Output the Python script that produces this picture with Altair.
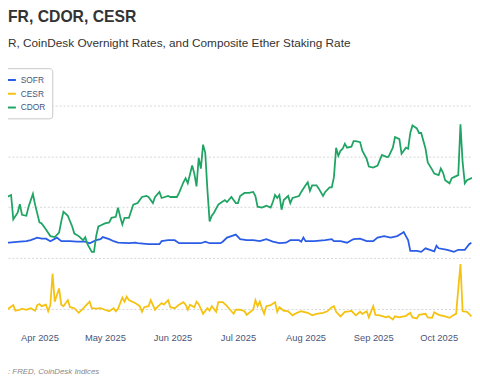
import altair as alt
import pandas as pd

TITLE = "FR, CDOR, CESR"
SUBTITLE = "R, CoinDesk Overnight Rates, and Composite Ether Staking Rate"
SOURCE = ": FRED, CoinDesk Indices"

series_names = ["SOFR", "CESR", "CDOR"]
series_colors = ["#2b5ce6", "#f5c211", "#1fa463"]
grid_values = [3, 4, 5, 6, 7]

sofr_dates = [
    "2025-03-14", "2025-03-18", "2025-03-23", "2025-03-26", "2025-03-28", "2025-03-31",
    "2025-04-02", "2025-04-04", "2025-04-06", "2025-04-09", "2025-04-11", "2025-04-15",
    "2025-04-18", "2025-04-22", "2025-04-24", "2025-04-27", "2025-04-29", "2025-04-30",
    "2025-05-03", "2025-05-05", "2025-05-07", "2025-05-12", "2025-05-15", "2025-05-16",
    "2025-05-21", "2025-05-26", "2025-05-27", "2025-05-30", "2025-06-02", "2025-06-04",
    "2025-06-08", "2025-06-14", "2025-06-16", "2025-06-18", "2025-06-23", "2025-06-24",
    "2025-06-26", "2025-06-28", "2025-06-30", "2025-07-02", "2025-07-05", "2025-07-08",
    "2025-07-11", "2025-07-14", "2025-07-17", "2025-07-20", "2025-07-23", "2025-07-25",
    "2025-07-29", "2025-07-30", "2025-07-31", "2025-08-01", "2025-08-05", "2025-08-10",
    "2025-08-13", "2025-08-14", "2025-08-17", "2025-08-20", "2025-08-22", "2025-08-23",
    "2025-08-26", "2025-08-29", "2025-09-01", "2025-09-03", "2025-09-06", "2025-09-09",
    "2025-09-12", "2025-09-14", "2025-09-15", "2025-09-16", "2025-09-17", "2025-09-18",
    "2025-09-21", "2025-09-23", "2025-09-25", "2025-09-27", "2025-09-29", "2025-09-30",
    "2025-10-01", "2025-10-05", "2025-10-08", "2025-10-10", "2025-10-13", "2025-10-15",
    "2025-10-16",
]
sofr_values = [
    4.30, 4.30, 4.32, 4.33, 4.35, 4.40,
    4.38, 4.38, 4.33, 4.40, 4.33, 4.33,
    4.32, 4.32, 4.29, 4.35, 4.37, 4.41,
    4.37, 4.33, 4.30, 4.29, 4.30, 4.29,
    4.27, 4.27, 4.33, 4.35, 4.35, 4.29,
    4.29, 4.29, 4.32, 4.29, 4.29, 4.32,
    4.40, 4.43, 4.46, 4.37, 4.35, 4.35,
    4.33, 4.37, 4.32, 4.29, 4.30, 4.35,
    4.35, 4.32, 4.40, 4.33, 4.33, 4.35,
    4.37, 4.33, 4.33, 4.30, 4.35, 4.37,
    4.38, 4.33, 4.33, 4.40, 4.43, 4.40,
    4.43, 4.48, 4.51, 4.43, 4.35, 4.14,
    4.14, 4.12, 4.19, 4.16, 4.13, 4.24,
    4.19, 4.16, 4.12, 4.16, 4.16, 4.27,
    4.30,
]

cesr_dates = [
    "2025-03-14", "2025-03-15", "2025-03-17", "2025-03-18", "2025-03-20", "2025-03-21",
    "2025-03-23", "2025-03-24", "2025-03-26", "2025-03-28", "2025-03-30", "2025-03-31",
    "2025-04-01", "2025-04-02", "2025-04-04", "2025-04-05", "2025-04-06", "2025-04-07",
    "2025-04-08", "2025-04-10", "2025-04-11", "2025-04-12", "2025-04-14", "2025-04-15",
    "2025-04-17", "2025-04-19", "2025-04-21", "2025-04-22", "2025-04-24", "2025-04-25",
    "2025-04-27", "2025-04-29", "2025-05-01", "2025-05-03", "2025-05-05", "2025-05-06",
    "2025-05-07", "2025-05-09", "2025-05-10", "2025-05-11", "2025-05-12", "2025-05-15",
    "2025-05-17", "2025-05-18", "2025-05-19", "2025-05-21", "2025-05-22", "2025-05-24",
    "2025-05-25", "2025-05-27", "2025-05-28", "2025-05-30", "2025-05-31", "2025-06-02",
    "2025-06-04", "2025-06-06", "2025-06-07", "2025-06-08", "2025-06-09", "2025-06-11",
    "2025-06-12", "2025-06-13", "2025-06-15", "2025-06-17", "2025-06-18", "2025-06-19",
    "2025-06-21", "2025-06-22", "2025-06-24", "2025-06-26", "2025-06-27", "2025-06-29",
    "2025-06-30", "2025-07-02", "2025-07-04", "2025-07-05", "2025-07-07", "2025-07-08",
    "2025-07-09", "2025-07-10", "2025-07-11", "2025-07-12", "2025-07-13", "2025-07-14",
    "2025-07-16", "2025-07-18", "2025-07-19", "2025-07-20", "2025-07-22", "2025-07-23",
    "2025-07-24", "2025-07-26", "2025-07-28", "2025-07-30", "2025-08-02", "2025-08-04",
    "2025-08-06", "2025-08-09", "2025-08-11", "2025-08-13", "2025-08-14", "2025-08-15",
    "2025-08-17", "2025-08-19", "2025-08-21", "2025-08-22", "2025-08-24", "2025-08-26",
    "2025-08-27", "2025-08-29", "2025-08-30", "2025-09-01", "2025-09-02", "2025-09-04",
    "2025-09-07", "2025-09-08", "2025-09-10", "2025-09-11", "2025-09-13", "2025-09-16",
    "2025-09-18", "2025-09-19", "2025-09-21", "2025-09-22", "2025-09-25", "2025-09-26",
    "2025-09-28", "2025-09-29", "2025-10-01", "2025-10-04", "2025-10-06", "2025-10-08",
    "2025-10-09", "2025-10-11", "2025-10-12", "2025-10-14", "2025-10-16",
]
cesr_values = [
    3.05, 2.98, 2.98, 3.01, 3.07, 2.96,
    2.98, 3.00, 2.98, 3.01, 2.96, 3.07,
    3.09, 3.05, 3.08, 2.95, 3.08, 3.69,
    3.14, 3.40, 3.08, 3.05, 3.17, 3.03,
    3.01, 2.92, 3.00, 3.05, 3.14, 3.01,
    3.00, 3.01, 2.98, 2.95, 3.01, 2.95,
    3.00, 3.22, 3.14, 3.24, 3.17, 3.11,
    3.05, 2.94, 3.03, 3.05, 3.17, 2.98,
    3.03, 3.11, 3.08, 3.17, 3.03, 3.01,
    3.08, 3.13, 3.08, 2.98, 3.08, 3.03,
    3.14, 3.09, 2.90, 3.01, 2.96, 3.05,
    2.94, 3.13, 3.13, 3.05, 3.00, 2.90,
    2.98, 2.98, 2.95, 2.88, 2.95, 2.98,
    3.17, 3.05, 3.14, 3.01, 2.90, 3.05,
    3.07, 3.13, 2.94, 3.03, 2.96, 2.96,
    2.95, 2.87, 2.92, 2.95, 2.92, 2.87,
    2.90, 2.92, 2.95, 3.03, 3.05, 2.94,
    2.85, 2.94, 2.95, 2.96, 2.87, 2.94,
    2.90, 2.95, 2.83, 3.05, 2.88, 2.87,
    2.83, 2.85, 2.79, 2.85, 2.83, 2.86,
    2.92, 2.83, 2.81, 2.88, 2.90, 2.83,
    2.82, 2.93, 2.88, 2.85, 2.82, 2.88,
    2.90, 3.88, 2.95, 2.94, 2.85,
]

cdor_dates = [
    "2025-03-14", "2025-03-15", "2025-03-16", "2025-03-17", "2025-03-19", "2025-03-20",
    "2025-03-22", "2025-03-23", "2025-03-24", "2025-03-26", "2025-03-27", "2025-03-29",
    "2025-03-30",
    "2025-04-01", "2025-04-02", "2025-04-04", "2025-04-06", "2025-04-08", "2025-04-10",
    "2025-04-11", "2025-04-12", "2025-04-14", "2025-04-16", "2025-04-17", "2025-04-19",
    "2025-04-21", "2025-04-22", "2025-04-23", "2025-04-25", "2025-04-26", "2025-04-27",
    "2025-04-28", "2025-04-29",
    "2025-05-01", "2025-05-03", "2025-05-04", "2025-05-06", "2025-05-07", "2025-05-08",
    "2025-05-09", "2025-05-10", "2025-05-12", "2025-05-14", "2025-05-16", "2025-05-18",
    "2025-05-20", "2025-05-21", "2025-05-23", "2025-05-24", "2025-05-26", "2025-05-27",
    "2025-05-30", "2025-05-31",
    "2025-06-03", "2025-06-04", "2025-06-06", "2025-06-07", "2025-06-08", "2025-06-10",
    "2025-06-11", "2025-06-12", "2025-06-13", "2025-06-14", "2025-06-15", "2025-06-16",
    "2025-06-17", "2025-06-18", "2025-06-19", "2025-06-20", "2025-06-22", "2025-06-23",
    "2025-06-25", "2025-06-26", "2025-06-28", "2025-06-29", "2025-06-30",
    "2025-07-01", "2025-07-02", "2025-07-04", "2025-07-06", "2025-07-08", "2025-07-09",
    "2025-07-10", "2025-07-12", "2025-07-14", "2025-07-16", "2025-07-17", "2025-07-18",
    "2025-07-19", "2025-07-20", "2025-07-21", "2025-07-22", "2025-07-24", "2025-07-25",
    "2025-07-26", "2025-07-29", "2025-07-30",
    "2025-08-01", "2025-08-02", "2025-08-03", "2025-08-04", "2025-08-06", "2025-08-07",
    "2025-08-09", "2025-08-10", "2025-08-12", "2025-08-13", "2025-08-14", "2025-08-15",
    "2025-08-16", "2025-08-17", "2025-08-18", "2025-08-19", "2025-08-20", "2025-08-22",
    "2025-08-23", "2025-08-24", "2025-08-26", "2025-08-27", "2025-08-29", "2025-08-30",
    "2025-09-01", "2025-09-03", "2025-09-05", "2025-09-07", "2025-09-08", "2025-09-10",
    "2025-09-11", "2025-09-13", "2025-09-14", "2025-09-16", "2025-09-17", "2025-09-18",
    "2025-09-19", "2025-09-21", "2025-09-22", "2025-09-23", "2025-09-25", "2025-09-26",
    "2025-09-28", "2025-09-29",
    "2025-10-01", "2025-10-02", "2025-10-03", "2025-10-04", "2025-10-06", "2025-10-07",
    "2025-10-09", "2025-10-10", "2025-10-11", "2025-10-12", "2025-10-13", "2025-10-14",
    "2025-10-16", "2025-10-17",
]
cdor_values = [
    5.47, 5.55, 5.34, 5.20, 5.24, 4.76, 4.89, 5.06, 4.85, 4.83, 5.01, 5.26, 5.05,
    4.70, 4.68, 4.56, 4.43, 4.41, 4.50, 4.72, 4.91, 4.83, 4.62, 4.48, 4.43, 4.35,
    4.41, 4.27, 4.12, 4.12, 4.43, 4.62, 4.64,
    4.68, 4.70, 4.79, 4.81, 4.99, 4.81, 4.66, 4.79, 4.79, 5.05, 5.08, 5.20, 5.22,
    5.20, 5.08, 5.20, 5.30, 5.18, 5.22, 5.20,
    5.20, 5.28, 5.49, 5.57, 5.47, 5.82, 5.66, 5.41, 5.97, 5.76, 6.23, 6.07, 5.34,
    4.72, 4.83, 4.89, 5.05, 5.08, 5.14, 5.10, 5.20, 5.14, 5.08,
    5.08, 5.22, 5.28, 5.28, 5.30, 5.22, 5.01, 4.99, 5.03, 4.99, 5.10, 5.24, 5.18,
    5.24, 4.95, 5.14, 5.22, 5.08, 5.18, 5.22, 5.30,
    5.43, 5.49, 5.32, 5.43, 5.43, 5.37, 5.22, 5.30, 5.39, 5.39, 5.59, 6.17, 6.01,
    6.11, 6.15, 6.25, 6.17, 6.19, 6.30, 6.30, 6.28, 6.11, 5.95, 5.80,
    5.78, 5.82, 6.03, 5.99, 5.99, 6.17, 6.38, 6.34, 6.05, 6.17, 6.15, 6.46, 6.61,
    6.55, 6.46, 6.46, 6.15, 5.88, 5.74, 5.66,
    5.63, 5.76, 5.68, 5.53, 5.47, 5.57, 5.61, 5.63, 6.63, 5.88, 5.47, 5.53, 5.57,
    5.57,
]

frames = []
for name, dates, values in [
    ("SOFR", sofr_dates, sofr_values),
    ("CESR", cesr_dates, cesr_values),
    ("CDOR", cdor_dates, cdor_values),
]:
    frames.append(pd.DataFrame({"date": dates, "rate": values, "series": name}))
df = pd.concat(frames, ignore_index=True)

x_start = int(pd.Timestamp("2025-03-17 13:55", tz="UTC").value // 10**6)
x_end = int(pd.Timestamp("2025-10-16 07:00", tz="UTC").value // 10**6)

FONT = "Liberation Sans"

lines = alt.Chart(df).mark_line(strokeWidth=1.8, clip=True).encode(
    x=alt.X(
        "date:T",
        scale=alt.Scale(type="utc", domain=[x_start, x_end], nice=False),
        axis=alt.Axis(
            format="%b %Y", tickCount="month", ticks=False, domain=False, grid=False,
            labelPadding=5, labelFontSize=9.5, labelColor="#4a5578", labelFont=FONT,
            labelFlush=False, title=None,
        ),
    ),
    y=alt.Y(
        "rate:Q",
        scale=alt.Scale(domain=[2.626, 7.852], nice=False, zero=False),
        axis=alt.Axis(
            values=grid_values, labels=False, ticks=False, domain=False, grid=True,
            gridDash=[2, 2], gridColor="#d6d6d6", gridWidth=1, title=None,
        ),
    ),
    color=alt.Color(
        "series:N",
        scale=alt.Scale(domain=series_names, range=series_colors),
        legend=alt.Legend(
            orient="none", legendX=-9, legendY=6, title=None,
            symbolType="stroke", symbolStrokeWidth=2, symbolSize=100,
            labelFontSize=8.5, labelColor="#4a5578", labelFont=FONT, labelOffset=4,
            fillColor="#ffffff", strokeColor="#c8c8c8", padding=6, rowPadding=3,
            cornerRadius=3,
        ),
    ),
    order=alt.Order("date:T"),
)

title = alt.Chart(pd.DataFrame({"t": [TITLE]})).mark_text(
    align="left", baseline="alphabetic", font=FONT, fontSize=16,
    fontWeight="bold", color="#333333",
).encode(text="t:N", x=alt.value(0), y=alt.value(-41))

subtitle = alt.Chart(pd.DataFrame({"t": [SUBTITLE]})).mark_text(
    align="left", baseline="alphabetic", font=FONT, fontSize=12, color="#333333",
).encode(text="t:N", x=alt.value(0), y=alt.value(-16))

source = alt.Chart(pd.DataFrame({"t": [SOURCE]})).mark_text(
    align="left", baseline="alphabetic", font=FONT, fontSize=8, fontStyle="italic",
    color="#888888",
).encode(text="t:N", x=alt.value(0), y=alt.value(317))

chart = alt.layer(lines, title, subtitle, source).properties(
    width=472,
    height=270,
    autosize=alt.AutoSizeParams(type="none"),
    padding={"left": 0, "top": 52, "right": 0, "bottom": 54},
    background="white",
).configure_view(stroke=None)

chart.save("out.html", embed_options={"renderer": "svg", "actions": False})
